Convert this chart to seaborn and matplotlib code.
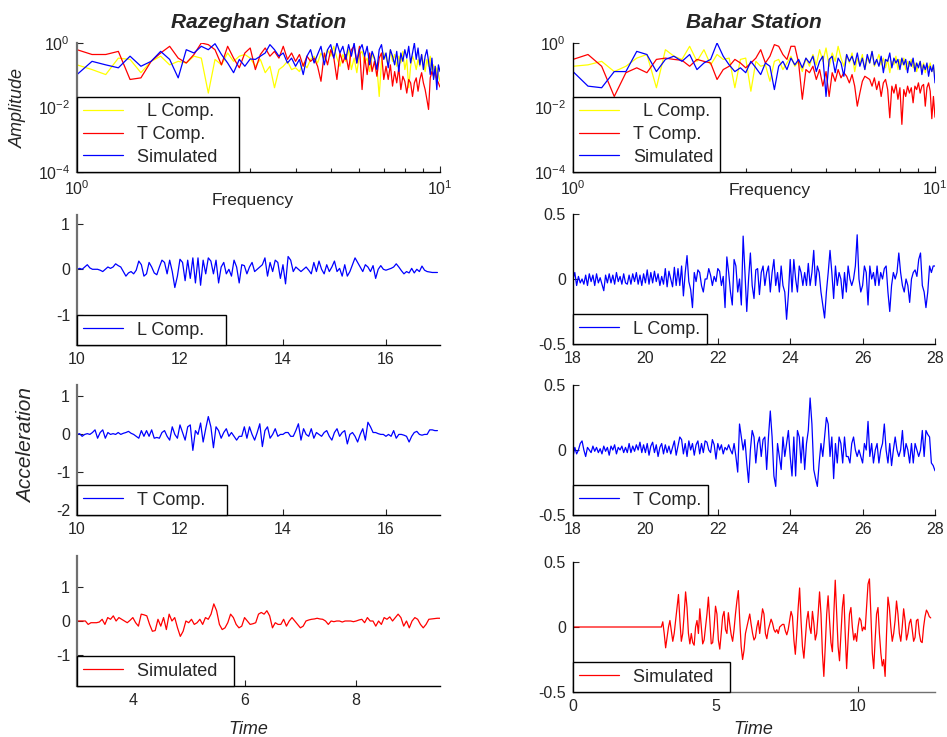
import numpy as np
import pandas as pd
import matplotlib
matplotlib.use("Agg")
import matplotlib.pyplot as plt
from matplotlib.ticker import FixedLocator, NullLocator, NullFormatter
import seaborn as sns

# ---------------- data ----------------
freq = np.round(np.arange(1.0, 10.01, 0.1), 1)

raz_L_amp = [0.21, 0.15, 0.105, 0.34, 0.31, 0.12, 0.27, 0.39, 0.21, 0.27,
             0.24, 0.39, 0.34, 0.028, 0.31, 0.21, 0.49, 0.27, 0.39, 0.44,
             0.34, 0.19, 0.31, 0.12, 0.19, 0.041, 0.15, 0.19, 0.27, 0.15,
             0.17, 0.13, 0.24, 0.17, 0.31, 0.39, 0.24, 0.49, 0.31, 0.62,
             0.39, 0.79, 0.34, 0.19, 0.44, 0.27, 0.62, 0.15, 0.34, 0.12,
             0.44, 0.55, 0.24, 0.34, 0.13, 0.44, 0.31, 0.19, 0.022, 0.27,
             0.49, 0.34, 0.21, 0.62, 0.27, 0.44, 0.19, 0.39, 0.24, 0.55,
             0.15, 0.31, 0.041, 0.19, 0.39, 0.27, 0.15, 0.31, 0.19, 0.44,
             0.24, 0.13, 0.31, 0.19, 0.39, 0.12, 0.21, 0.083, 0.17, 0.105,
             0.065]
raz_T_amp = [0.62, 0.44, 0.44, 0.55, 0.074, 0.083, 0.27, 0.49, 0.79, 0.34,
             0.24, 0.44, 1.0, 0.89, 0.62, 0.21, 0.79, 0.34, 0.17, 0.49,
             0.70, 0.15, 0.44, 0.70, 0.39, 0.55, 0.34, 0.79, 0.31, 0.49,
             0.27, 0.44, 0.19, 0.39, 0.27, 0.34, 0.19, 0.065, 0.49, 0.21,
             0.62, 0.34, 0.074, 0.49, 0.24, 0.44, 0.15, 0.62, 0.79, 0.24,
             0.79, 0.036, 0.39, 0.105, 0.49, 0.13, 0.27, 0.093, 0.34, 0.49,
             0.074, 0.19, 0.074, 0.21, 0.046, 0.13, 0.058, 0.17, 0.036, 0.093,
             0.065, 0.028, 0.074, 0.058, 0.022, 0.058, 0.083, 0.032, 0.074, 0.12,
             0.058, 0.036, 0.018, 0.0087, 0.083, 0.13, 0.093, 0.15, 0.074, 0.058,
             0.043]
raz_S_amp = [0.105, 0.27, 0.21, 0.17, 0.39, 0.19, 0.27, 0.55, 0.31, 0.083,
             0.62, 0.49, 0.79, 0.62, 0.95, 0.44, 0.24, 0.12, 0.31, 0.19,
             0.32, 0.31, 0.39, 0.49, 0.89, 0.62, 0.39, 0.49, 0.24, 0.34,
             0.19, 0.31, 0.105, 0.39, 0.62, 0.24, 0.44, 0.79, 0.21, 0.62,
             0.89, 0.34, 1.0, 0.49, 0.79, 0.31, 0.89, 0.39, 1.0, 0.24,
             0.62, 0.89, 0.39, 0.79, 0.21, 0.55, 0.34, 0.15, 0.62, 0.89,
             0.31, 0.49, 0.17, 0.62, 0.39, 0.21, 0.55, 0.13, 0.49, 0.27,
             0.62, 0.34, 0.79, 0.24, 0.49, 1.0, 0.31, 0.70, 0.21, 0.44,
             0.15, 0.39, 0.62, 0.27, 0.105, 0.34, 0.074, 0.19, 0.036, 0.21,
             0.13]

bah_L_amp = [0.19, 0.21, 0.27, 0.13, 0.19, 0.34, 0.44, 0.041, 0.62, 0.39,
             0.31, 0.79, 0.27, 0.62, 0.21, 0.44, 0.31, 0.34, 0.041, 0.31,
             0.34, 0.032, 0.27, 0.19, 0.21, 0.065, 0.27, 0.31, 0.15, 0.24,
             0.39, 0.19, 0.27, 0.13, 0.34, 0.19, 0.44, 0.21, 0.62, 0.27,
             0.70, 0.19, 0.49, 0.27, 0.79, 0.34, 0.19, 0.44, 0.24, 0.49,
             0.13, 0.34, 0.21, 0.44, 0.15, 0.34, 0.24, 0.55, 0.19, 0.27,
             0.44, 0.21, 0.34, 0.17, 0.31, 0.12, 0.27, 0.21, 0.39, 0.15,
             0.31, 0.21, 0.34, 0.15, 0.27, 0.19, 0.31, 0.17, 0.24, 0.13,
             0.21, 0.27, 0.15, 0.24, 0.12, 0.21, 0.17, 0.24, 0.13, 0.19,
             0.093]
bah_T_amp = [0.31, 0.44, 0.19, 0.022, 0.12, 0.17, 0.12, 0.31, 0.34, 0.31,
             0.29, 0.19, 0.31, 0.27, 0.24, 0.074, 0.15, 0.19, 0.31, 0.24,
             0.17, 0.24, 0.34, 0.62, 0.24, 0.39, 0.89, 0.79, 0.44, 0.31,
             0.79, 0.79, 0.24, 0.018, 0.15, 0.12, 0.19, 0.074, 0.15, 0.046,
             0.13, 0.022, 0.12, 0.065, 0.15, 0.083, 0.12, 0.093, 0.058, 0.105,
             0.046, 0.011, 0.028, 0.065, 0.093, 0.083, 0.074, 0.046, 0.083, 0.036,
             0.065, 0.022, 0.058, 0.074, 0.036, 0.0048, 0.046, 0.028, 0.052, 0.018,
             0.041, 0.003, 0.036, 0.022, 0.046, 0.028, 0.041, 0.014, 0.046, 0.036,
             0.058, 0.028, 0.046, 0.052, 0.011, 0.041, 0.058, 0.032, 0.0045, 0.022,
             0.005]
bah_S_amp = [0.13, 0.046, 0.041, 0.13, 0.13, 0.55, 0.44, 0.13, 0.31, 0.39,
             0.27, 0.44, 0.15, 0.24, 0.31, 1.0, 0.39, 0.21, 0.13, 0.17,
             0.12, 0.27, 0.17, 0.105, 0.24, 0.19, 0.036, 0.19, 0.27, 0.15,
             0.34, 0.21, 0.31, 0.17, 0.34, 0.24, 0.39, 0.13, 0.27, 0.39,
             0.022, 0.31, 0.39, 0.12, 0.34, 0.24, 0.093, 0.44, 0.27, 0.39,
             0.21, 0.49, 0.19, 0.34, 0.15, 0.44, 0.24, 0.55, 0.21, 0.31,
             0.19, 0.39, 0.12, 0.31, 0.27, 0.49, 0.17, 0.34, 0.24, 0.31,
             0.15, 0.34, 0.21, 0.31, 0.12, 0.27, 0.19, 0.34, 0.13, 0.24,
             0.17, 0.27, 0.105, 0.21, 0.15, 0.24, 0.093, 0.19, 0.13, 0.21,
             0.058]

dt = 0.05
raz_L_start = 10.0
raz_L_acc = [0.0, 0.02, 0.0, 0.05, 0.10, 0.03, 0.0, 0.0, 0.0, -0.02, -0.05, 0.0, 0.05, 0.02, 0.05, 0.12, 0.08, 0.05, -0.05, -0.15,
             -0.08, -0.05, -0.10, -0.02, 0.18, 0.10, -0.15, -0.10, 0.15, 0.05, -0.08, -0.12, 0.05, 0.20, 0.15, -0.10, 0.20, -0.05, -0.40, -0.15,
             0.22, 0.15, -0.25, 0.20, -0.20, 0.25, -0.30, 0.25, -0.35, 0.20, -0.10, 0.25, 0.18, -0.10, 0.20, -0.30, 0.05, 0.15, -0.10, 0.0,
             -0.15, 0.20, 0.05, -0.30, 0.10, 0.08, -0.10, 0.05, 0.15, -0.05, 0.0, 0.05, 0.10, 0.25, -0.15, 0.15, -0.05, 0.20, 0.15, -0.20,
             0.10, -0.32, 0.28, 0.20, -0.05, 0.05, 0.0, -0.05, 0.0, 0.05, -0.02, -0.10, 0.15, -0.05, 0.18, 0.0, -0.10, 0.10, -0.05, 0.05,
             0.18, -0.05, 0.02, -0.15, 0.10, -0.15, -0.05, 0.10, 0.25, 0.15, 0.05, -0.05, 0.10, 0.05, -0.05, 0.08, -0.20, 0.0, 0.08, 0.0,
             -0.02, 0.0, 0.02, 0.05, 0.12, 0.05, -0.03, -0.10, -0.05, -0.08, 0.02, -0.08, 0.0, -0.05, 0.07, -0.02, -0.05, -0.06, -0.07, -0.07,
             -0.07]
raz_T_start = 10.0
raz_T_acc = [0.0, 0.02, -0.05, 0.0, 0.02, 0.0, 0.05, 0.12, -0.10, 0.05, 0.12, -0.10, 0.05, 0.0, 0.02, 0.0, 0.05, 0.0, 0.03, 0.05,
             0.08, 0.03, 0.0, -0.05, -0.10, 0.10, -0.05, 0.10, -0.05, 0.12, -0.10, -0.08, -0.10, 0.05, 0.10, -0.05, -0.15, 0.20, 0.0, -0.10,
             0.25, 0.05, -0.15, 0.20, 0.25, -0.42, 0.10, 0.0, 0.30, -0.20, 0.15, 0.47, 0.20, -0.35, 0.20, 0.10, -0.10, 0.05, 0.15, -0.05,
             0.05, -0.05, -0.15, -0.05, -0.05, 0.20, -0.10, 0.20, 0.0, -0.15, 0.05, 0.28, -0.32, 0.10, 0.20, -0.10, 0.0, 0.15, -0.05, 0.0,
             0.0, 0.05, 0.05, -0.05, -0.05, 0.10, 0.28, -0.15, 0.15, 0.0, -0.05, 0.15, -0.10, 0.05, 0.0, -0.05, 0.05, 0.10, -0.05, -0.15,
             0.05, 0.15, -0.05, 0.05, 0.10, -0.25, 0.0, 0.05, -0.05, -0.20, 0.0, 0.15, -0.15, 0.32, 0.20, 0.05, 0.05, 0.02, 0.0, 0.0,
             -0.05, 0.0, -0.05, 0.10, -0.10, 0.0, 0.0, -0.02, -0.05, -0.20, -0.05, 0.05, 0.08, 0.0, -0.02, 0.0, 0.0, 0.12, 0.12, 0.10,
             0.10]
raz_S_start = 3.0
raz_S_acc = [0.0, 0.0, 0.0, 0.0, -0.10, -0.05, -0.05, -0.05, -0.03, 0.05, -0.10, 0.10, 0.05, 0.15, 0.0, 0.10, 0.05, 0.0, -0.05, 0.02,
             0.10, -0.05, -0.15, 0.20, 0.18, 0.15, -0.10, -0.30, -0.28, 0.05, -0.15, 0.10, -0.25, 0.20, 0.0, 0.10, -0.20, -0.45, -0.30, 0.0,
             -0.05, 0.05, -0.10, -0.05, 0.05, -0.10, 0.10, 0.05, 0.20, 0.50, 0.30, -0.10, -0.25, -0.20, -0.05, 0.20, 0.10, -0.10, -0.20, -0.15,
             0.10, 0.0, -0.10, -0.08, -0.05, 0.20, 0.25, 0.20, 0.30, 0.15, -0.20, -0.05, -0.10, -0.10, 0.05, -0.15, 0.0, 0.10, 0.0, -0.10,
             -0.20, -0.15, 0.0, 0.03, 0.05, 0.06, 0.08, 0.06, 0.05, 0.0, -0.10, 0.0, -0.02, 0.0, 0.0, -0.03, 0.0, 0.0, 0.0, -0.02,
             0.0, 0.03, 0.05, -0.05, 0.10, 0.0, 0.0, -0.15, 0.0, -0.10, 0.10, 0.05, 0.12, 0.0, 0.10, 0.20, 0.10, -0.15, 0.0, -0.20,
             0.0, 0.10, 0.05, -0.10, -0.20, -0.10, 0.05, 0.06, 0.07, 0.08, 0.08]

bah_L_start = 18.0
bah_L_acc = [0.0, 0.05, -0.05, 0.02, -0.03, 0.0, -0.04, 0.03, -0.05, 0.04, -0.02, 0.03, -0.05, 0.04, -0.03, 0.01, -0.04, -0.09, 0.03, -0.03,
             0.04, -0.03, 0.03, -0.04, 0.05, -0.02, 0.02, -0.04, 0.04, -0.03, -0.04, 0.03, -0.04, 0.04, -0.02, 0.05, -0.04, 0.03, -0.05, 0.04,
             -0.03, 0.07, -0.04, 0.05, -0.03, 0.06, -0.02, 0.04, -0.05, 0.02, -0.04, 0.08, -0.06, 0.06, 0.0, -0.06, 0.09, -0.05, 0.08, -0.05,
             0.10, -0.13, 0.05, 0.18, -0.02, -0.08, -0.22, 0.05, -0.02, 0.07, 0.05, -0.05, -0.10, 0.0, 0.0, 0.08, 0.03, -0.05, 0.02, -0.02,
             0.08, 0.06, -0.05, 0.02, -0.22, 0.17, 0.05, -0.10, -0.20, 0.15, 0.10, -0.10, 0.0, -0.20, 0.33, 0.05, -0.25, 0.0, 0.20, -0.05,
             -0.15, 0.07, 0.08, -0.12, 0.05, 0.10, -0.05, 0.05, 0.10, -0.10, 0.05, 0.15, -0.05, 0.05, -0.10, 0.10, -0.05, -0.10, -0.31, -0.12,
             0.15, -0.10, 0.15, 0.0, -0.10, 0.10, 0.05, -0.05, 0.05, -0.05, 0.12, -0.05, 0.05, 0.22, -0.05, 0.10, 0.05, -0.10, -0.20, -0.30,
             -0.10, 0.05, 0.22, 0.05, -0.15, 0.10, -0.05, 0.05, 0.0, -0.15, 0.05, -0.10, 0.10, 0.0, -0.05, 0.0, 0.10, 0.34, 0.0, -0.10,
             -0.05, 0.10, 0.05, -0.20, 0.10, 0.0, 0.05, -0.05, 0.10, -0.05, 0.05, 0.0, 0.08, 0.10, -0.10, -0.25, -0.05, 0.05, 0.0, 0.05,
             0.20, 0.05, -0.05, -0.10, 0.0, -0.05, -0.18, 0.0, 0.05, 0.07, 0.02, 0.15, 0.20, -0.05, -0.10, -0.22, -0.10, 0.10, 0.05, 0.10,
             0.10]
bah_T_start = 18.0
bah_T_acc = [-0.05, 0.02, -0.03, 0.0, 0.05, 0.07, 0.0, -0.05, 0.02, 0.0, -0.02, 0.03, -0.01, 0.02, -0.02, 0.01, -0.03, 0.03, -0.01, 0.02,
             -0.04, 0.03, 0.0, 0.04, -0.03, 0.02, 0.0, 0.03, -0.02, 0.02, -0.02, 0.05, -0.02, 0.03, -0.01, 0.04, 0.0, 0.06, -0.02, 0.04,
             -0.02, 0.05, -0.04, 0.03, 0.06, -0.02, 0.04, -0.05, 0.02, 0.05, -0.03, 0.04, -0.02, 0.03, -0.03, 0.02, 0.07, -0.04, 0.03, 0.10,
             0.08, -0.03, 0.05, -0.05, 0.07, 0.0, 0.05, -0.04, 0.04, 0.07, -0.03, 0.05, -0.02, 0.07, 0.06, 0.0, -0.02, 0.08, 0.04, -0.07,
             0.05, 0.0, 0.04, -0.03, 0.02, 0.0, 0.04, 0.0, -0.03, 0.05, -0.05, -0.17, 0.20, 0.10, 0.0, 0.08, -0.10, -0.25, 0.0, 0.15,
             0.10, -0.10, 0.05, 0.10, -0.05, 0.08, 0.10, -0.15, 0.10, 0.30, 0.10, -0.20, -0.28, 0.05, -0.05, -0.15, 0.10, -0.05, 0.05, 0.15,
             -0.05, -0.20, 0.10, -0.20, 0.15, 0.10, -0.10, 0.10, -0.15, 0.05, 0.15, 0.40, 0.20, -0.15, -0.22, -0.28, -0.10, 0.05, -0.05, 0.10,
             0.25, 0.20, -0.05, 0.10, -0.22, 0.05, -0.10, 0.10, 0.05, -0.10, 0.10, -0.05, -0.05, -0.10, 0.05, 0.10, 0.0, -0.05, 0.0, -0.05,
             -0.10, 0.05, 0.0, 0.22, -0.05, 0.05, -0.10, 0.0, 0.05, -0.10, 0.0, 0.05, 0.20, 0.0, -0.10, 0.05, -0.12, 0.0, 0.10, 0.0,
             -0.05, 0.0, 0.15, -0.05, 0.05, 0.0, -0.10, 0.05, -0.10, 0.05, 0.0, -0.05, 0.0, 0.15, -0.05, 0.15, 0.12, 0.10, -0.10, -0.12,
             -0.16]
bah_S_quiet = 0.0        # record starts at t = 0 with zero motion
bah_S_start = 3.1
bah_S_acc = [0.0, 0.04, -0.05, -0.16, -0.08, 0.0, 0.05, -0.03, -0.11, -0.05, 0.05, 0.15, 0.25, 0.05, -0.11, -0.05, 0.10, 0.27, 0.15, -0.05,
             -0.13, -0.05, -0.12, -0.14, 0.0, 0.05, -0.05, 0.14, 0.0, -0.13, -0.10, 0.0, 0.10, 0.23, 0.05, -0.13, -0.12, 0.0, 0.16, 0.10,
             -0.10, -0.17, -0.05, 0.08, 0.12, -0.02, -0.05, 0.11, 0.02, -0.06, -0.11, -0.02, 0.10, 0.20, 0.28, 0.05, -0.15, -0.25, -0.18, -0.05,
             0.0, 0.05, 0.10, 0.02, -0.05, -0.10, -0.08, 0.0, 0.05, -0.05, 0.05, 0.14, 0.10, -0.05, -0.09, -0.02, 0.02, 0.06, 0.03, -0.02,
             -0.04, -0.02, -0.05, 0.0, 0.01, 0.02, 0.02, -0.03, -0.06, -0.02, 0.05, 0.12, 0.08, -0.10, -0.21, -0.05, 0.15, 0.30, 0.05, -0.15,
             -0.24, -0.10, 0.05, 0.12, 0.0, -0.05, 0.12, 0.03, -0.10, -0.05, 0.10, 0.27, 0.10, -0.20, -0.38, -0.15, 0.10, 0.24, 0.05, -0.12,
             -0.19, 0.10, 0.36, 0.10, -0.15, -0.26, -0.05, 0.15, 0.25, -0.05, -0.32, -0.10, 0.10, 0.15, 0.0, -0.10, -0.05, -0.11, 0.0, 0.07,
             0.05, -0.03, 0.0, -0.02, 0.15, 0.33, 0.37, 0.10, -0.20, -0.32, -0.10, 0.10, 0.15, -0.05, -0.20, -0.30, -0.25, -0.38, -0.05, 0.23,
             0.15, 0.0, -0.11, -0.05, 0.05, 0.20, 0.10, -0.05, -0.11, 0.0, 0.14, 0.05, -0.10, -0.05, 0.03, 0.06, -0.02, -0.11, -0.08, 0.05,
             0.06, -0.05, -0.11, -0.12, 0.0, 0.08, 0.13, 0.11, 0.08, 0.07]

C_Y, C_R, C_B = "#ffff00", "#ff0000", "#0000ff"

# ---------------- style ----------------
sns.set_style("ticks")
plt.rcParams["font.family"] = ["Liberation Sans", "DejaVu Sans"]
plt.rcParams["mathtext.fontset"] = "custom"
plt.rcParams["mathtext.rm"] = "Liberation Sans"
plt.rcParams["mathtext.it"] = "Liberation Sans:italic"
plt.rcParams["mathtext.bf"] = "Liberation Sans:bold"

W, H = 947, 737
fig = plt.figure(figsize=(W / 100, H / 100), dpi=100)
fig.patch.set_facecolor("white")


def make_ax(x0, x1, top, bot):
    return fig.add_axes([x0 / W, 1 - bot / H, (x1 - x0) / W, (bot - top) / H])


def style(ax, gray_left=False):
    sns.despine(ax=ax)
    for s in ("left", "bottom"):
        ax.spines[s].set_color("black")
        ax.spines[s].set_linewidth(1.0)
    if gray_left:
        ax.spines["left"].set_color("#707070")
        ax.spines["left"].set_linewidth(1.6)
    ax.tick_params(which="both", direction="in", length=4, width=0.8,
                   labelsize=11.5, top=False, right=False, pad=5)
    ax.tick_params(which="minor", length=3)


def add_legend(ax, labels):
    leg = ax.legend(ax.get_lines(), labels, loc="lower left", bbox_to_anchor=(0, 0),
                    borderaxespad=0, fancybox=False, edgecolor="black", framealpha=1,
                    fontsize=13, handlelength=2.2, handletextpad=0.8,
                    borderpad=0.35, labelspacing=0.32)
    leg.get_frame().set_linewidth(1.0)
    return leg


def spectrum(ax, series, labels):
    for vals, col in series:
        sns.lineplot(x=freq, y=vals, ax=ax, color=col, lw=0.9, estimator=None,
                     sort=False, errorbar=None, legend=False)
    ax.set_xscale("log")
    ax.set_yscale("log")
    ax.set_xlim(1, 10)
    ax.set_ylim(1e-4, 1)
    ax.xaxis.set_major_locator(FixedLocator([1, 10]))
    ax.xaxis.set_minor_locator(FixedLocator([2, 3, 4, 5, 6, 7, 8, 9]))
    ax.xaxis.set_minor_formatter(NullFormatter())
    ax.yaxis.set_major_locator(FixedLocator([1e-4, 1e-2, 1]))
    ax.yaxis.set_minor_locator(NullLocator())
    add_legend(ax, labels)


def accel(ax, t0, vals, col, label, xlim, xticks, ylim, yticks, yticklabels, prefix=None):
    t = t0 + dt * np.arange(len(vals))
    y = np.asarray(vals, dtype=float)
    if prefix is not None:
        t = np.concatenate([[prefix[0]], t])
        y = np.concatenate([[prefix[1]], y])
    df = pd.DataFrame({"t": t, "a": y})
    sns.lineplot(data=df, x="t", y="a", ax=ax, color=col, lw=0.9, estimator=None,
                 sort=False, errorbar=None, legend=False)
    ax.set_xlim(*xlim)
    ax.set_ylim(*ylim)
    ax.set_xticks(xticks)
    ax.set_xticklabels([str(v) for v in xticks])
    ax.set_yticks(yticks)
    ax.set_yticklabels(yticklabels)
    ax.set_xlabel("")
    ax.set_ylabel("")
    add_legend(ax, [label])


# ---------------- left column: Razeghan ----------------
ax1 = make_ax(77, 440, 43, 172)
style(ax1, gray_left=True)
spectrum(ax1, [(raz_L_amp, C_Y), (raz_T_amp, C_R), (raz_S_amp, C_B)],
         ["  L Comp.", "T Comp.", "Simulated   "])
ax1.set_title("Razeghan Station", fontsize=15, fontweight="bold", fontstyle="italic",
              y=(172 - 22) / 129, va="center", pad=0)
ax1.set_xlabel("Frequency", fontsize=12.5)
ax1.xaxis.set_label_coords((253 - 77) / 363, (172 - 200) / 129)
ax1.xaxis.label.set_va("center")
ax1.set_ylabel("Amplitude", fontsize=13, fontstyle="italic")
ax1.yaxis.set_label_coords((18 - 77) / 363, (172 - 108) / 129)
ax1.yaxis.label.set_va("center")

ax2 = make_ax(77, 440, 215, 345)
style(ax2, gray_left=True)
accel(ax2, raz_L_start, raz_L_acc, C_B, "L Comp.   ", (10, 17.05), [10, 12, 14, 16],
      (-1.66, 1.19), [-1, 0, 1], ["-1", "0", "1"])

ax3 = make_ax(77, 440, 385, 515)
style(ax3, gray_left=True)
accel(ax3, raz_T_start, raz_T_acc, C_B, "T Comp.   ", (10, 17.05), [10, 12, 14, 16],
      (-2.12, 1.3), [-2, -1, 0, 1], ["-2", "-1", "0", "1"])
ax3.set_ylabel("Acceleration", fontsize=15, fontstyle="italic")
ax3.yaxis.set_label_coords((27 - 77) / 363, (515 - 445) / 130)
ax3.yaxis.label.set_va("center")

ax4 = make_ax(77, 440, 556, 686)
style(ax4, gray_left=True)
accel(ax4, raz_S_start, raz_S_acc, C_R, "Simulated  ", (3, 9.5), [4, 6, 8],
      (-1.9, 1.9), [-1, 0, 1], ["-1", "0", "1"])
ax4.set_xlabel("Time", fontsize=13, fontstyle="italic")
ax4.xaxis.set_label_coords((248 - 77) / 363, (686 - 729) / 130)
ax4.xaxis.label.set_va("center")

# ---------------- right column: Bahar ----------------
ax5 = make_ax(573, 935, 43, 172)
style(ax5)
spectrum(ax5, [(bah_L_amp, C_Y), (bah_T_amp, C_R), (bah_S_amp, C_B)],
         ["  L Comp.", "T Comp.", "Simulated"])
ax5.set_title("Bahar Station", fontsize=15, fontweight="bold", fontstyle="italic",
              y=(172 - 22) / 129, va="center", pad=0)
ax5.set_xlabel("Frequency", fontsize=12.5)
ax5.xaxis.set_label_coords((770 - 573) / 362, (172 - 191) / 129)
ax5.xaxis.label.set_va("center")

ax6 = make_ax(573, 935, 214, 344)
style(ax6)
accel(ax6, bah_L_start, bah_L_acc, C_B, "L Comp.", (18, 28), [18, 20, 22, 24, 26, 28],
      (-0.5, 0.5), [-0.5, 0, 0.5], ["-0.5", "0", "0.5"])

ax7 = make_ax(573, 935, 385, 515)
style(ax7)
accel(ax7, bah_T_start, bah_T_acc, C_B, "T Comp.", (18, 28), [18, 20, 22, 24, 26, 28],
      (-0.5, 0.5), [-0.5, 0, 0.5], ["-0.5", "0", "0.5"])

ax8 = make_ax(573, 935, 562, 692)
style(ax8)
accel(ax8, bah_S_start, bah_S_acc, C_R, "Simulated  ", (0, 12.7), [0, 5, 10],
      (-0.5, 0.5), [-0.5, 0, 0.5], ["-0.5", "0", "0.5"], prefix=(0.0, bah_S_quiet))
ax8.spines["bottom"].set_color("#707070")
ax8.set_xlabel("Time", fontsize=13, fontstyle="italic")
ax8.xaxis.set_label_coords((753 - 573) / 362, (692 - 730) / 130)
ax8.xaxis.label.set_va("center")

fig.savefig("out.png", dpi=100, facecolor="white")
